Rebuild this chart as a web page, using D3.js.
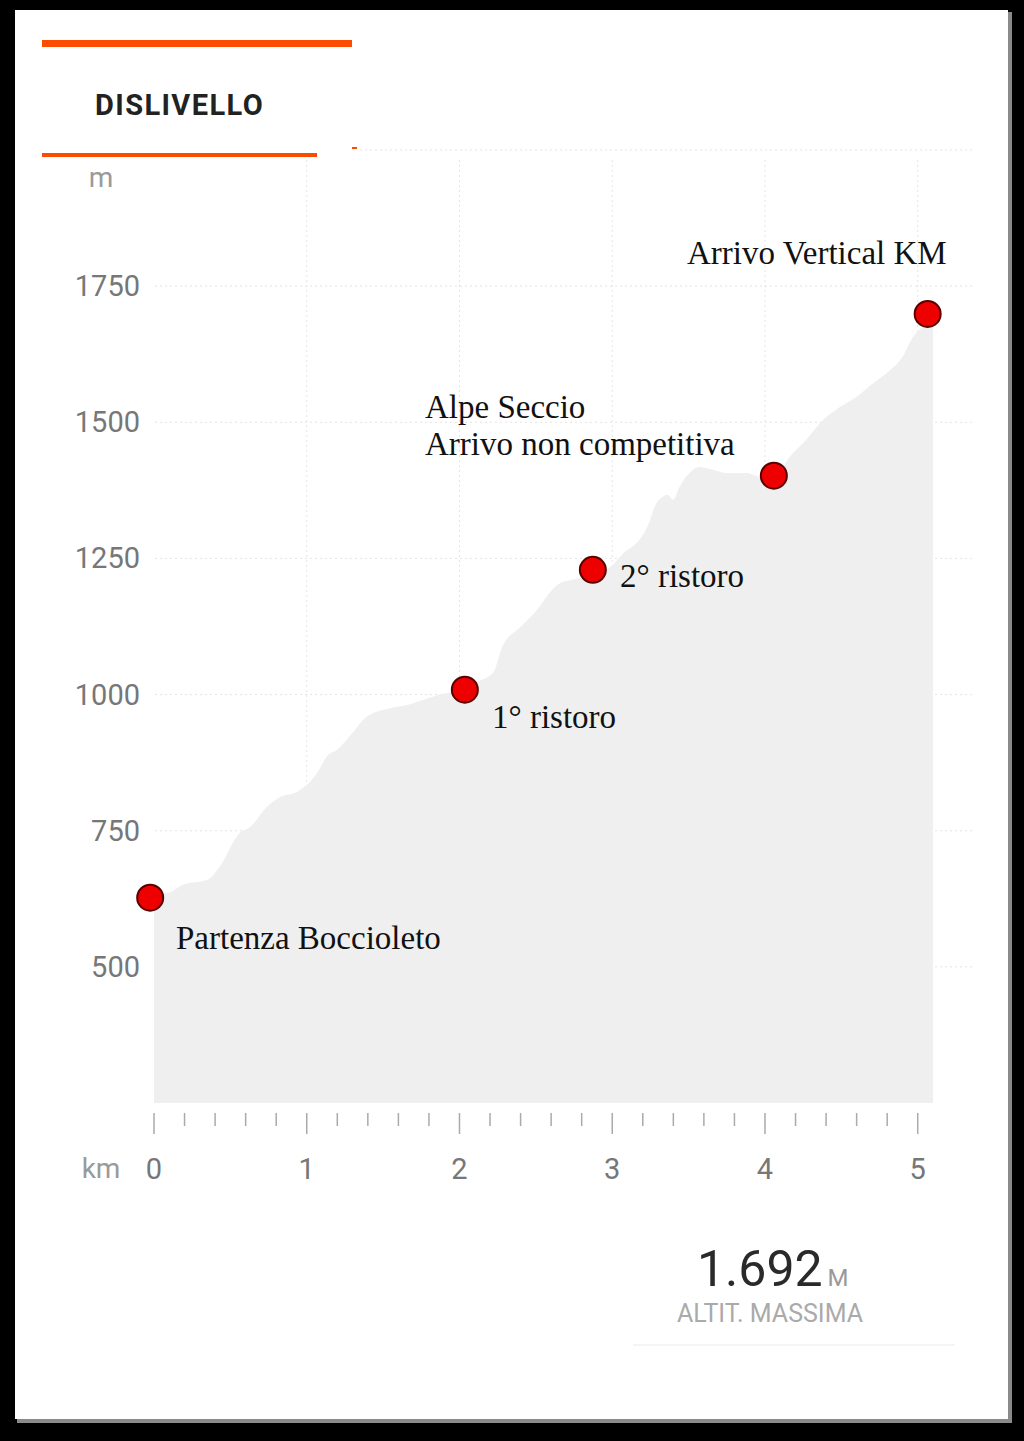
<!DOCTYPE html>
<html>
<head>
<meta charset="utf-8">
<script src="https://cdn.jsdelivr.net/npm/d3@7"></script>
<style>
  html, body { margin: 0; padding: 0; background: #000; }
  svg { display: block; }
</style>
</head>
<body>
<svg id="chart" width="1024" height="1441"></svg>
<script>
// ---- data ----
const distanceKm = [0, 0.085, 0.19, 0.35, 0.43, 0.56, 0.63, 0.74, 0.82, 0.94, 1.07, 1.13, 1.20, 1.30, 1.39, 1.56, 1.66, 1.76, 1.87, 2.00, 2.10, 2.22, 2.28, 2.40, 2.51, 2.59, 2.66, 2.74, 2.87, 2.98, 3.10, 3.13, 3.23, 3.29, 3.33, 3.36, 3.40, 3.44, 3.53, 3.57, 3.66, 3.75, 3.88, 3.97, 4.06, 4.16, 4.27, 4.38, 4.49, 4.60, 4.71, 4.82, 4.90, 4.97, 5.03, 5.10];
const elevationM = [636, 636, 651, 660, 684, 746, 757, 794, 811, 822, 857, 886, 899, 930, 959, 976, 981, 990, 1000, 1009, 1022, 1040, 1088, 1124, 1156, 1187, 1205, 1211, 1220, 1233, 1266, 1271, 1308, 1352, 1363, 1367, 1358, 1381, 1413, 1418, 1413, 1407, 1407, 1400, 1400, 1436, 1468, 1504, 1528, 1547, 1572, 1596, 1620, 1657, 1675, 1692];

const markerNames = ["Partenza Boccioleto", "1° ristoro", "2° ristoro", "Alpe Seccio|Arrivo non competitiva", "Arrivo Vertical KM"];
const markerKm = [-0.025, 2.035, 2.873, 4.058, 5.065];
const markerM = [627, 1009, 1229, 1402, 1699];

const yTickValues = [500, 750, 1000, 1250, 1500, 1750];
const xTickValues = [0, 1, 2, 3, 4, 5];
const xMinorStep = 0.2;

const title = "DISLIVELLO";
const maxAltitudeLabel = "1.692";
const maxAltitudeUnit = "M";
const maxAltitudeCaption = "ALTIT. MASSIMA";

// ---- layout ----
const svg = d3.select("#chart");
const x = d3.scaleLinear().domain([0, 5.1]).range([154, 933]);
const y = d3.scaleLinear().domain([250, 2000]).range([1103, 150]);

// card
svg.append("rect").attr("x", 17).attr("y", 12).attr("width", 995).attr("height", 1411).attr("fill", "#8a8a8a");
svg.append("rect").attr("x", 15).attr("y", 10).attr("width", 993).attr("height", 1409).attr("fill", "#ffffff");

// header
svg.append("rect").attr("x", 42).attr("y", 40).attr("width", 310).attr("height", 7).attr("fill", "#fc4c02");
svg.append("text").attr("x", 95).attr("y", 115).text(title)
  .attr("font-family", "Roboto, sans-serif").attr("font-weight", 700).attr("font-size", 29)
  .attr("letter-spacing", 1.4).attr("fill", "#222");
svg.append("rect").attr("x", 42).attr("y", 153).attr("width", 275).attr("height", 4).attr("fill", "#fc4c02");
svg.append("rect").attr("x", 352).attr("y", 147).attr("width", 5).attr("height", 2).attr("fill", "#fc4c02");

// grid
const grid = svg.append("g").attr("stroke", "#e4e4e4").attr("stroke-width", 1).attr("stroke-dasharray", "2,3");
grid.append("line").attr("x1", 360).attr("x2", 975).attr("y1", y(2000)).attr("y2", y(2000));
grid.selectAll(".hg").data(yTickValues).join("line")
  .attr("x1", 155).attr("x2", 975).attr("y1", d => y(d)).attr("y2", d => y(d));
grid.selectAll(".vg").data(xTickValues.filter(d => d > 0)).join("line")
  .attr("x1", d => x(d)).attr("x2", d => x(d)).attr("y1", 160).attr("y2", y(250));

// area
const area = d3.area().x((d, i) => x(distanceKm[i])).y0(y(250)).y1((d, i) => y(elevationM[i])).curve(d3.curveMonotoneX);
svg.append("path").datum(elevationM).attr("d", area).attr("fill", "#efefef");

// y axis labels
const axisFont = "Roboto, sans-serif";
svg.append("text").attr("x", 101).attr("y", 187).attr("text-anchor", "middle").text("m")
  .attr("font-family", axisFont).attr("font-size", 28).attr("fill", "#9a9a9a");
svg.selectAll(".yl").data(yTickValues).join("text")
  .attr("x", 140).attr("y", d => y(d) + 10).attr("text-anchor", "end").text(d => d)
  .attr("font-family", axisFont).attr("font-size", 29).attr("fill", "#777");

// x axis ticks
const minorTicks = d3.range(0, 5.0001, xMinorStep).filter(v => Math.abs(v - Math.round(v)) > 1e-6);
svg.append("g").selectAll("line").data(minorTicks).join("line")
  .attr("x1", d => x(d)).attr("x2", d => x(d)).attr("y1", 1113).attr("y2", 1126)
  .attr("stroke", "#aaa").attr("stroke-width", 1.5);
svg.append("g").selectAll("line").data(xTickValues).join("line")
  .attr("x1", d => x(d)).attr("x2", d => x(d)).attr("y1", 1113).attr("y2", 1134)
  .attr("stroke", "#aaa").attr("stroke-width", 1.5);
svg.selectAll(".xl").data(xTickValues).join("text")
  .attr("x", d => x(d)).attr("y", 1179).attr("text-anchor", "middle").text(d => d)
  .attr("font-family", axisFont).attr("font-size", 29).attr("fill", "#777");
svg.append("text").attr("x", 101).attr("y", 1178).attr("text-anchor", "middle").text("km")
  .attr("font-family", axisFont).attr("font-size", 28).attr("fill", "#9a9a9a");

// markers
svg.selectAll(".mk").data(markerKm).join("circle")
  .attr("cx", d => x(d)).attr("cy", (d, i) => y(markerM[i])).attr("r", 13)
  .attr("fill", "#ee0000").attr("stroke", "#5a0000").attr("stroke-width", 2);

// marker labels
const labelPos = [[176, 949], [492, 728], [620, 587], [425, 418], [687, 264]];
const lab = svg.append("g").attr("font-family", "'Liberation Serif', 'Times New Roman', serif").attr("font-size", 33).attr("fill", "#111");
markerNames.forEach((name, i) => {
  const lines = name.split("|");
  lines.forEach((ln, j) => {
    lab.append("text").attr("x", labelPos[i][0]).attr("y", labelPos[i][1] + j * 37).text(ln);
  });
});

// max altitude block
const maxText = svg.append("text").attr("x", 697).attr("y", 1286)
  .attr("font-family", axisFont);
maxText.append("tspan").text(maxAltitudeLabel).attr("font-size", 50).attr("fill", "#2a2a2a");
maxText.append("tspan").text(maxAltitudeUnit).attr("dx", 5).attr("font-size", 24).attr("fill", "#999");
svg.append("text").attr("x", 770).attr("y", 1322).attr("text-anchor", "middle").text(maxAltitudeCaption)
  .attr("font-family", axisFont).attr("font-size", 25).attr("fill", "#aaa");
svg.append("line").attr("x1", 633).attr("x2", 955).attr("y1", 1345).attr("y2", 1345)
  .attr("stroke", "#f2f2f2").attr("stroke-width", 1.5);
</script>
</body>
</html>
